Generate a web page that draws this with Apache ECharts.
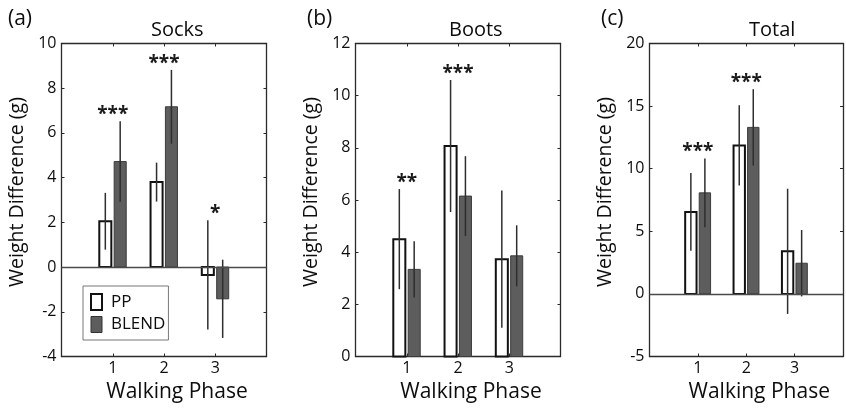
<!DOCTYPE html>
<html><head><meta charset="utf-8">
<script src="https://cdn.jsdelivr.net/npm/echarts@6/dist/echarts.min.js"></script>
<style>html,body{margin:0;padding:0;background:#fff}#chart{width:846px;height:408px}</style>
</head><body><div id="chart"></div>
<script>
// ---------- data ----------
const phases = [1, 2, 3];
const xTickLabels = ['1', '2', '3'];
const panelTitles = ['Socks', 'Boots', 'Total'];
const panelLetters = ['(a)', '(b)', '(c)'];
const seriesNames = ['PP', 'BLEND'];

const socksPP = [2.05, 3.8, -0.35];
const socksPPErr = [1.27, 0.87, 2.44];
const socksBlend = [4.72, 7.17, -1.42];
const socksBlendErr = [1.8, 1.65, 1.75];
const socksSig = ['***', '***', '*'];

const bootsPP = [4.5, 8.07, 3.73];
const bootsPPErr = [1.92, 2.53, 2.63];
const bootsBlend = [3.34, 6.15, 3.86];
const bootsBlendErr = [1.08, 1.53, 1.17];
const bootsSig = ['**', '***', ''];

const totalPP = [6.55, 11.86, 3.4];
const totalPPErr = [3.1, 3.2, 5.0];
const totalBlend = [8.07, 13.3, 2.45];
const totalBlendErr = [2.75, 3.05, 2.65];
const totalSig = ['***', '***', ''];

const yMins = [-4, 0, -5];
const yMaxs = [10, 12, 20];
const yIntervals = [2, 2, 5];
const xMin = 0, xMax = 4;

// ---------- layout / style ----------
const FONT = 'Open Sans';
const gridLefts = [61.5, 355.5, 649.5];
const GRID_TOP = 43.5, GRID_W = 205, GRID_H = 313;
const BAR_W = 0.235, BAR_OFF = 0.145;
const titleLefts = [151, 449, 749];
const letterLefts = [8, 307, 601];
const AXC = '#2a2a2a';
const TXT = '#0d0d0d';

const panels = [
  {pp: socksPP, ppE: socksPPErr, bl: socksBlend, blE: socksBlendErr, sig: socksSig},
  {pp: bootsPP, ppE: bootsPPErr, bl: bootsBlend, blE: bootsBlendErr, sig: bootsSig},
  {pp: totalPP, ppE: totalPPErr, bl: totalBlend, blE: totalBlendErr, sig: totalSig}
];

function barRender(offset, fill, stroke, lw) {
  return function (params, api) {
    const x = api.value(0), v = api.value(1), e = api.value(2);
    const c = x + offset;
    const p0 = api.coord([c - BAR_W / 2, 0]);
    const p1 = api.coord([c + BAR_W / 2, v]);
    const t = api.coord([c, v + e]);
    const b = api.coord([c, v - e]);
    return {
      type: 'group',
      children: [
        {type: 'rect', shape: {x: Math.min(p0[0], p1[0]), y: Math.min(p0[1], p1[1]),
          width: Math.abs(p1[0] - p0[0]), height: Math.abs(p1[1] - p0[1])},
          style: {fill: fill, stroke: stroke, lineWidth: lw}},
        {type: 'line', shape: {x1: t[0], y1: t[1], x2: b[0], y2: b[1]},
          style: {stroke: '#2e2e2e', lineWidth: 1.5}}
      ]
    };
  };
}

function sigRender(labels) {
  return function (params, api) {
    const p = api.coord([api.value(0), api.value(1)]);
    return {
      type: 'text', x: p[0], y: p[1] + 3,
      style: {text: labels[params.dataIndex], align: 'center', verticalAlign: 'bottom',
        textAlign: 'center', textVerticalAlign: 'bottom',
        fontSize: 19, fontWeight: 'bold', fontFamily: FONT, fill: '#1a1a1a'}
    };
  };
}

const grid = [], xAxis = [], yAxis = [], series = [], title = [];
panels.forEach((pd, i) => {
  grid.push({left: gridLefts[i], top: GRID_TOP, width: GRID_W, height: GRID_H});
  title.push({text: panelTitles[i], left: titleLefts[i], top: 20, padding: 0,
    textStyle: {fontFamily: FONT, fontSize: 20, fontWeight: 'normal', color: TXT}});
  title.push({text: panelLetters[i], left: letterLefts[i], top: 9, padding: 0,
    textStyle: {fontFamily: FONT, fontSize: 21, fontWeight: 'normal', color: TXT}});
  const commonAxisLine = {show: true, onZero: false, lineStyle: {color: AXC, width: 1.3}};
  xAxis.push({
    gridIndex: i, type: 'value', min: xMin, max: xMax, interval: 1, position: 'bottom',
    axisLine: commonAxisLine,
    axisTick: {show: true, inside: true, length: 3, lineStyle: {color: AXC}},
    axisLabel: {margin: 4, fontFamily: FONT, fontSize: 16, color: TXT,
      formatter: v => { const k = phases.indexOf(v); return k >= 0 ? xTickLabels[k] : ''; }},
    splitLine: {show: false},
    name: 'Walking Phase', nameLocation: 'middle', nameGap: 12,
    nameTextStyle: {fontFamily: FONT, fontSize: 21, color: TXT, padding: [0, 0, 0, 26]}
  });
  xAxis.push({
    gridIndex: i, type: 'value', min: xMin, max: xMax, interval: 1, position: 'top',
    axisLine: commonAxisLine,
    axisTick: {show: true, inside: true, length: 3, lineStyle: {color: AXC}},
    axisLabel: {show: false}, splitLine: {show: false}
  });
  yAxis.push({
    gridIndex: i, type: 'value', min: yMins[i], max: yMaxs[i], interval: yIntervals[i], position: 'left',
    axisLine: commonAxisLine,
    axisTick: {show: true, inside: true, length: 3, lineStyle: {color: AXC}},
    axisLabel: {margin: 5, fontFamily: FONT, fontSize: 16, color: TXT},
    splitLine: {show: false},
    name: 'Weight Difference (g)', nameLocation: 'middle', nameGap: 34,
    nameTextStyle: {fontFamily: FONT, fontSize: 19.5, color: TXT, padding: [0, 0, 0, 16]}
  });
  yAxis.push({
    gridIndex: i, type: 'value', min: yMins[i], max: yMaxs[i], interval: yIntervals[i], position: 'right',
    axisLine: commonAxisLine,
    axisTick: {show: true, inside: true, length: 3, lineStyle: {color: AXC}},
    axisLabel: {show: false}, splitLine: {show: false}
  });
  const xi = 2 * i, yi = 2 * i;
  series.push({
    type: 'custom', name: seriesNames[0], xAxisIndex: xi, yAxisIndex: yi,
    renderItem: barRender(-BAR_OFF, '#ffffff', '#111111', 2),
    itemStyle: {color: '#ffffff', borderColor: '#111111', borderWidth: 2},
    encode: {x: 0, y: 1},
    data: phases.map((p, k) => [p, pd.pp[k], pd.ppE[k]]),
    z: 3,
    markLine: yMins[i] < 0 ? {silent: true, symbol: 'none', label: {show: false},
      lineStyle: {color: '#4a4a4a', width: 1.3, type: 'solid'}, data: [{yAxis: 0}]} : undefined
  });
  series.push({
    type: 'custom', name: seriesNames[1], xAxisIndex: xi, yAxisIndex: yi,
    renderItem: barRender(BAR_OFF, '#5d5d5d', '#3c3c3c', 1),
    itemStyle: {color: '#5d5d5d', borderColor: '#333333', borderWidth: 1},
    encode: {x: 0, y: 1},
    data: phases.map((p, k) => [p, pd.bl[k], pd.blE[k]]),
    z: 3
  });
  series.push({
    type: 'custom', name: 'sig' + i, xAxisIndex: xi, yAxisIndex: yi,
    renderItem: sigRender(pd.sig),
    encode: {x: 0, y: 1},
    data: phases.map((p, k) => [p, Math.max(pd.pp[k] + pd.ppE[k], pd.bl[k] + pd.blE[k])]),
    z: 4
  });
});

const chart = echarts.init(document.getElementById('chart'), null, {renderer: 'canvas'});
chart.setOption({
  animation: false,
  backgroundColor: '#ffffff',
  title: title,
  grid: grid, xAxis: xAxis, yAxis: yAxis, series: series,
  legend: {
    orient: 'vertical', left: 83, top: 286, selectedMode: false,
    borderColor: '#777', borderWidth: 1, padding: [7, 3, 7, 7],
    itemWidth: 11, itemHeight: 16, itemGap: 5,
    textStyle: {fontFamily: FONT, fontSize: 17, color: TXT, padding: [0, 0, 0, 4]},
    data: [
      {name: 'PP', icon: 'rect', itemStyle: {color: '#ffffff', borderColor: '#111', borderWidth: 2}},
      {name: 'BLEND', icon: 'rect', itemStyle: {color: '#5d5d5d', borderColor: '#333', borderWidth: 1}}
    ]
  }
});
</script></body></html>
